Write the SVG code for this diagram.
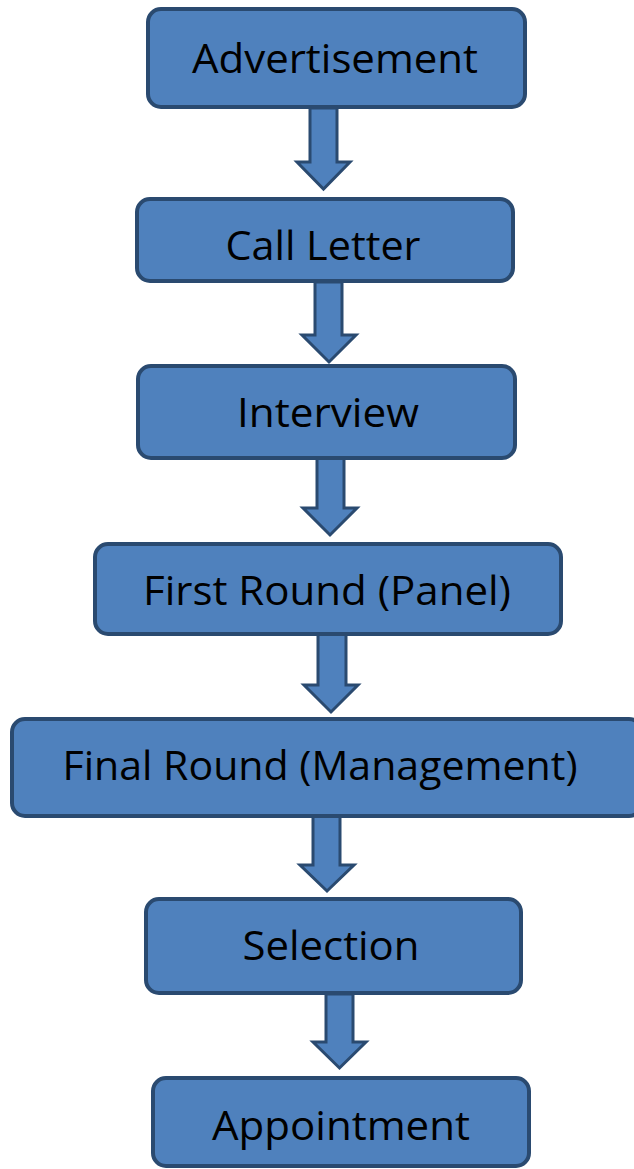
<svg xmlns="http://www.w3.org/2000/svg" width="634" height="1169" viewBox="0 0 634 1169">
<style>
.box{fill:#4F81BD;stroke:#2A4A70;stroke-width:4}
.arr{fill:#4F81BD;stroke:#2A4A70;stroke-width:3;stroke-linejoin:miter}
.t{font-family:"Open Sans","Liberation Sans",sans-serif;font-size:40px;fill:#000;text-anchor:middle}
</style>
<rect width="634" height="1169" fill="#fff"/>
<g id="connectors">
<path class="arr" d="M310,108 H337 V162 H350 L323.5,189 L297,162 H310 Z"/>
<path class="arr" d="M315,282 H342 V335 H356 L329,362 L302,335 H315 Z"/>
<path class="arr" d="M317,458 H344 V508 H357 L330,535 L303,508 H317 Z"/>
<path class="arr" d="M318,634 H346 V685 H358 L331,712 L304,685 H318 Z"/>
<path class="arr" d="M313,816 H340 V865 H354 L327,891 L300,865 H313 Z"/>
<path class="arr" d="M326,994 H353 V1042 H366 L339.5,1068 L313,1042 H326 Z"/>
</g>
<g id="n1"><rect class="box" x="148" y="9" width="377" height="98" rx="13"/><text class="t" x="335" y="73" textLength="286" lengthAdjust="spacingAndGlyphs">Advertisement</text></g>
<g id="n2"><rect class="box" x="137" y="199" width="376" height="82" rx="13"/><text class="t" x="323" y="260" textLength="195" lengthAdjust="spacingAndGlyphs">Call Letter</text></g>
<g id="n3"><rect class="box" x="138" y="366" width="377" height="92" rx="13"/><text class="t" x="328" y="427" textLength="182" lengthAdjust="spacingAndGlyphs">Interview</text></g>
<g id="n4"><rect class="box" x="95" y="544" width="466" height="90" rx="13"/><text class="t" x="327" y="605" textLength="368" lengthAdjust="spacingAndGlyphs">First Round (Panel)</text></g>
<g id="n5"><rect class="box" x="12" y="719" width="630" height="97" rx="13"/><text class="t" x="320" y="780" textLength="515" lengthAdjust="spacingAndGlyphs">Final Round (Management)</text></g>
<g id="n6"><rect class="box" x="146" y="899" width="375" height="94" rx="13"/><text class="t" x="331" y="960" textLength="177" lengthAdjust="spacingAndGlyphs">Selection</text></g>
<g id="n7"><rect class="box" x="153" y="1078" width="376" height="88" rx="13"/><text class="t" x="341" y="1140" textLength="258" lengthAdjust="spacingAndGlyphs">Appointment</text></g>
</svg>
